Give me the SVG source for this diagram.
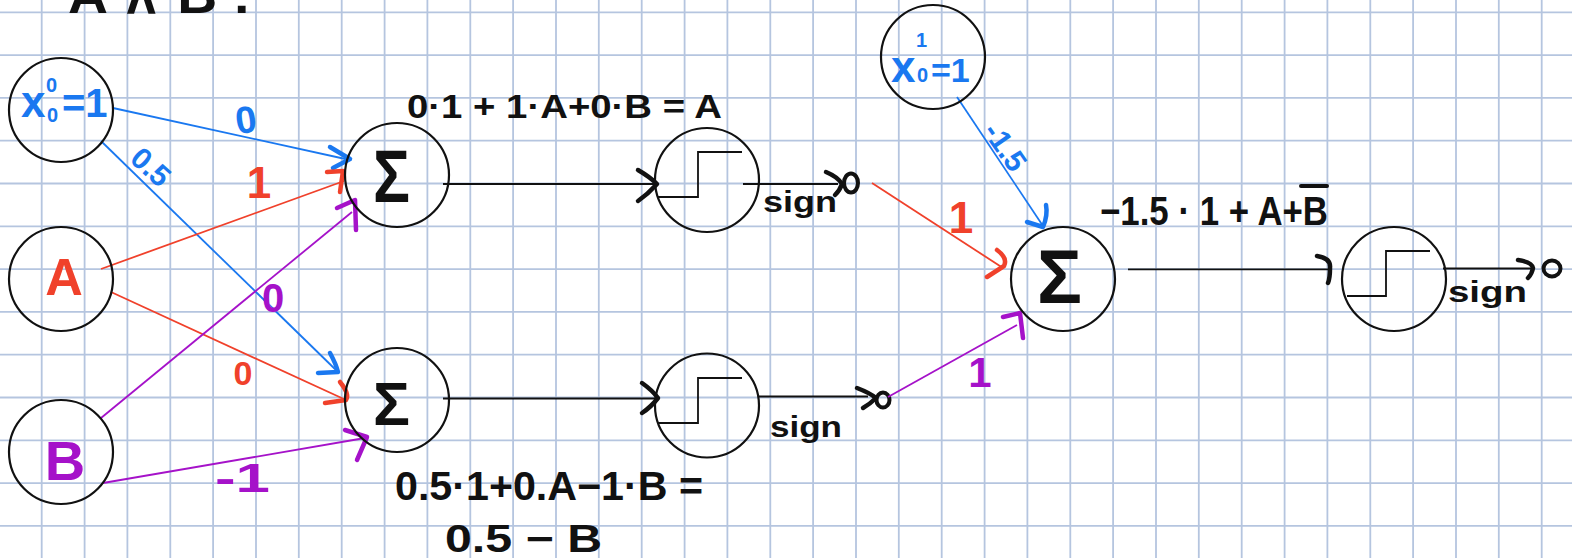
<svg xmlns="http://www.w3.org/2000/svg" width="1572" height="558" viewBox="0 0 1572 558">
<style>
.grid{fill:none;stroke:#b5c5df;stroke-width:1.8}
.node{fill:none;stroke:#111;stroke-width:2.2}
.edge{fill:none;stroke-width:1.8}
.mk{fill:none;stroke:#111;stroke-width:4}
.head{fill:none;stroke-width:4.5;stroke-linecap:round;stroke-linejoin:round}
.bl{stroke:#1a78f0}
.rd{stroke:#f0412b}
.pu{stroke:#a512c9}
.bk{stroke:#111}
.t{font-family:"Liberation Sans",Arial,sans-serif;font-weight:bold}
.fb{fill:#1a78f0}
.fr{fill:#f0412b}
.fp{fill:#a512c9}
.fk{fill:#111}
</style>
<rect width="1572" height="558" fill="#ffffff"/>
<path class="grid" d="M41.7,0V558M84.6,0V558M127.4,0V558M170.3,0V558M213.1,0V558M256,0V558M298.8,0V558M341.7,0V558M384.6,0V558M427.4,0V558M470.3,0V558M513.1,0V558M556,0V558M598.8,0V558M641.7,0V558M684.6,0V558M727.4,0V558M770.3,0V558M813.1,0V558M856,0V558M898.8,0V558M941.7,0V558M984.6,0V558M1027.4,0V558M1070.3,0V558M1113.1,0V558M1156,0V558M1198.8,0V558M1241.7,0V558M1284.6,0V558M1327.4,0V558M1370.3,0V558M1413.1,0V558M1456,0V558M1498.8,0V558M1541.7,0V558M0,12.3H1572M0,55.1H1572M0,97.9H1572M0,140.7H1572M0,183.5H1572M0,226.3H1572M0,269.1H1572M0,311.9H1572M0,354.7H1572M0,397.5H1572M0,440.3H1572M0,483.1H1572M0,525.9H1572"/>

<text class="t fk" x="68" y="13" font-size="52" textLength="183" lengthAdjust="spacingAndGlyphs">A ∧ B :</text>

<g id="connectors">
  <path class="edge bl" d="M113,108 L350,160"/>
  <path class="head bl" d="M330,147 L350,159 L333,168"/>
  <path class="edge bl" d="M101,141 L338,372"/>
  <path class="head bl" d="M330,353 Q336,364 338,372 L318,373"/>
  <path class="edge rd" d="M101,269 L344,181"/>
  <path class="head rd" d="M327,172 L343,171 L340,192"/>
  <path class="edge rd" d="M111,292 L346,400"/>
  <path class="head rd" d="M340,382 Q350,394 346,400 L325,403"/>
  <path class="edge pu" d="M101,418 L352,212"/>
  <path class="head pu" d="M337,208 L355,200 L356,230"/>
  <path class="edge pu" d="M103,483 L365,438"/>
  <path class="head pu" d="M345,430 L367,437 L357,460"/>
  <path class="edge bk" d="M443,184 H656"/>
  <path class="head bk" d="M638,170 Q650,177 657,184 Q648,194 638,201"/>
  <path class="edge bk" d="M443,398.5 H657"/>
  <path class="head bk" d="M642,383 Q652,390 658,398 Q651,407 642,413"/>
  <path class="edge bk" d="M743,184 H838"/>
  <path class="head bk" d="M826,172 Q838,177 842,184 Q840,190 835,195"/>
  <ellipse class="mk" cx="851" cy="183" rx="7" ry="9.5"/>
  <path class="edge bk" d="M759,396.5 H868"/>
  <path class="head bk" d="M857,388 Q870,393 876,398 Q870,404 863,408"/>
  <ellipse class="mk" cx="883" cy="400" rx="6.5" ry="7.5"/>
  <path class="edge rd" d="M872,183 L1003,268"/>
  <path class="head rd" d="M997,250 Q1008,258 1004,266 L987,277"/>
  <path class="edge bl" d="M957,97 L1043,226"/>
  <path class="head bl" d="M1027,222 L1043,227 Q1048,215 1046,205"/>
  <path class="edge pu" d="M888,397 L1017,325"/>
  <path class="head pu" d="M1003,317 L1020,313 L1023,338"/>
  <path class="edge bk" d="M1128,269.3 H1330"/>
  <path class="head bk" d="M1317,256 Q1331,258 1330,268 Q1330,278 1328,283"/>
  <path class="edge bk" d="M1443,268.5 H1531"/>
  <path class="head bk" d="M1518,260 Q1532,262 1533,268 Q1532,274 1528,278"/>
  <ellipse class="mk" cx="1552" cy="268.5" rx="8.5" ry="8"/>

  <text class="t fb" x="246" y="133" font-size="38" text-anchor="middle" transform="rotate(-8 246 120)">0</text>
  <text class="t fb" x="150" y="177" font-size="30" text-anchor="middle" transform="rotate(42 150 168)">0.5</text>
  <text class="t fr" x="259" y="198" font-size="44" text-anchor="middle">1</text>
  <text class="t fp" x="273" y="312" font-size="40" text-anchor="middle">0</text>
  <text class="t fr" x="243" y="385" font-size="34" text-anchor="middle">0</text>
  <text class="t fp" x="215" y="492" font-size="40" textLength="55" lengthAdjust="spacingAndGlyphs">-1</text>
  <text class="t fr" x="961" y="233" font-size="44" text-anchor="middle">1</text>
  <text class="t fb" x="1005" y="157" font-size="30" text-anchor="middle" transform="rotate(55 1005 147)">-1.5</text>
  <text class="t fp" x="980" y="387" font-size="42" text-anchor="middle">1</text>
</g>

<g id="x0">
  <circle class="node" cx="61" cy="110" r="52"/>
  <text class="t fb" font-size="40"><tspan x="21" y="117" font-size="44">x</tspan><tspan x="46" y="92" font-size="20">0</tspan><tspan x="47" y="122" font-size="20">0</tspan><tspan x="62" y="117">=1</tspan></text>
</g>
<g id="A">
  <circle class="node" cx="61" cy="279" r="52"/>
  <text class="t fr" x="64" y="295" font-size="52" text-anchor="middle">A</text>
</g>
<g id="B">
  <circle class="node" cx="61" cy="452" r="52"/>
  <text class="t fp" x="65" y="480" font-size="56" text-anchor="middle">B</text>
</g>
<g id="sum1">
  <circle class="node" cx="397" cy="175" r="52"/>
  <text class="t fk" x="373" y="202" font-size="74" textLength="37" lengthAdjust="spacingAndGlyphs">Σ</text>
</g>
<g id="sum2">
  <circle class="node" cx="397" cy="400" r="52"/>
  <text class="t fk" x="373" y="425" font-size="62" textLength="37" lengthAdjust="spacingAndGlyphs">Σ</text>
</g>
<g id="step1">
  <circle class="node" cx="707" cy="180" r="52"/>
  <path class="edge bk" d="M658,197 H698 V152 H742"/>
  <text class="t fk" x="763" y="212" font-size="30" textLength="74" lengthAdjust="spacingAndGlyphs">sign</text>
</g>
<g id="step2">
  <circle class="node" cx="707" cy="405.5" r="52"/>
  <path class="edge bk" d="M658,423 H698 V378 H742"/>
  <text class="t fk" x="770" y="437" font-size="30" textLength="72" lengthAdjust="spacingAndGlyphs">sign</text>
</g>
<g id="x01">
  <circle class="node" cx="933" cy="57" r="52"/>
  <text class="t fb" font-size="34"><tspan x="891" y="82" font-size="44">x</tspan><tspan x="916" y="47" font-size="20">1</tspan><tspan x="917" y="82" font-size="20">0</tspan><tspan x="931" y="82">=1</tspan></text>
</g>
<g id="sum3">
  <circle class="node" cx="1063" cy="279" r="52"/>
  <text class="t fk" x="1037" y="303" font-size="76" textLength="45" lengthAdjust="spacingAndGlyphs">Σ</text>
</g>
<g id="step3">
  <circle class="node" cx="1394" cy="279" r="52"/>
  <path class="edge bk" d="M1347,296 H1386 V251 H1430"/>
  <text class="t fk" x="1448" y="302" font-size="30" textLength="79" lengthAdjust="spacingAndGlyphs">sign</text>
</g>

<g id="formulas">
  <text class="t fk" x="407" y="118" font-size="34" textLength="315" lengthAdjust="spacingAndGlyphs">0·1 + 1·A+0·B = A</text>
  <text class="t fk" x="395" y="500" font-size="40" textLength="308" lengthAdjust="spacingAndGlyphs">0.5·1+0.A−1·B =</text>
  <text class="t fk" x="445" y="552" font-size="38" textLength="157" lengthAdjust="spacingAndGlyphs">0.5 − B</text>
  <text class="t fk" x="1100" y="225" font-size="40" textLength="228" lengthAdjust="spacingAndGlyphs">−1.5 · 1 + A+B</text>
  <path d="M1301,186 H1327" fill="none" stroke="#111" stroke-width="4" stroke-linecap="round"/>
</g>
</svg>
